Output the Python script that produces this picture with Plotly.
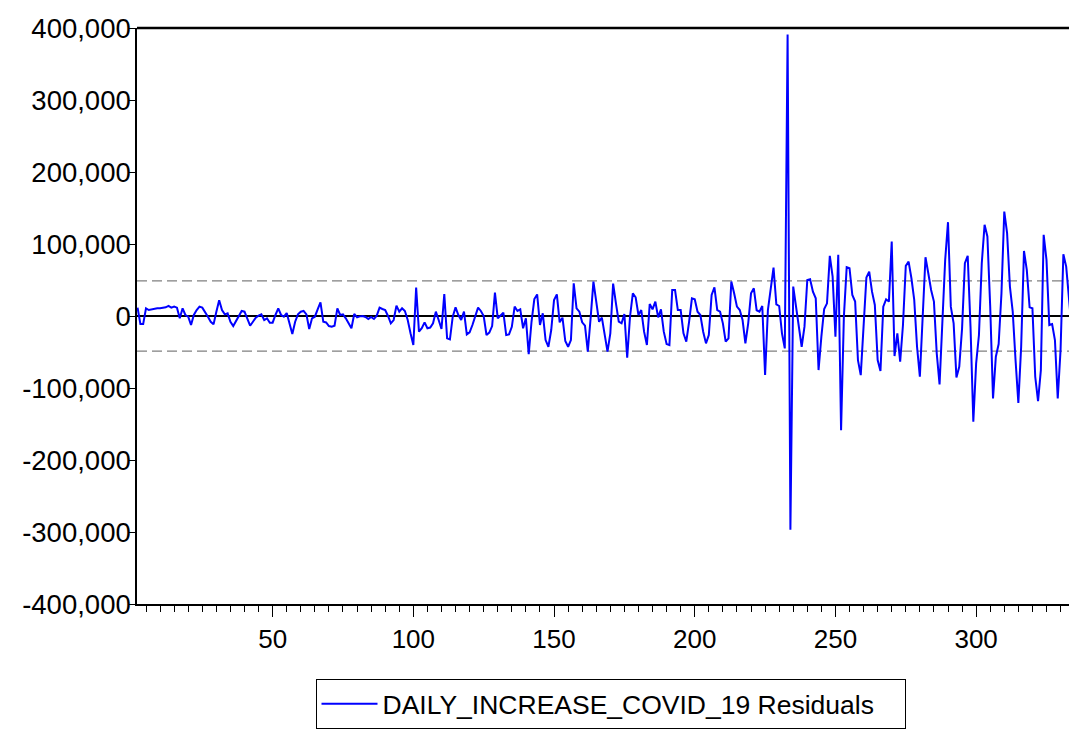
import plotly.graph_objects as go

# ---- data ----
obs_start = 2
residuals = [
    11600, -11000, -11000, 10700, 8300, 9300, 9700, 10700, 10700, 11600,
    12000, 14000, 11600, 13000, 11600, -3200, 10700, 1400, -1000, -12500,
    1400, 8300, 13000, 11600, 6000, -1000, -8000, -11600, 6000, 22000,
    8300, 2300, 3700, -8000, -14000, -7000, 1400, 7000, 6000, -3200,
    -13500, -8000, -2300, 500, 2300, -5600, -3200, -9300, -9300, 1400,
    10700, 1400, -1000, 4200, -12500, -25000, -8000, 2300, 6000, 7000,
    2300, -18000, -3200, -1000, 9300, 19000, -8000, -9000, -14000, -15000,
    -13500, 10700, 1400, 2300, -3200, -10000, -17000, 2800, -1900, -500,
    0, -1400, -4200, -1400, -4200, 500, 11600, 9700, 8300, 0,
    -10200, -5600, 14400, 6000, 10700, 7000, -5600, -24000, -40300, 39400,
    -21800, -17000, -8800, -17000, -16000, -10200, 6000, -5600, -18000, 30600,
    -31000, -32500, -900, 12000, 1400, -5600, 6000, -25500, -22700, -12500,
    -900, 11600, 7000, 0, -26400, -23000, -14000, 32500, -3200, 500,
    4600, -26400, -25500, -15000, 13000, 7000, 9300, -17000, -3200, -53000,
    -8000, 23600, 30000, -12500, 3700, -33400, -42700, -19500, 22300, 30000,
    -8800, -2300, -34800, -42700, -33400, 45400, 10700, 6000, -8800, -13500,
    -49600, -3000, 47800, 20000, -8000, -2300, -27000, -49600, -24000, 45000,
    17600, -7900, -10200, 2800, -58000, -1000, 31500, 26000, 1400, 8300,
    -21800, -40300, 16700, 9300, 20000, -1900, 9300, -21800, -39000, -40300,
    36000, 36000, 8300, 8300, -24000, -35700, -7900, 24600, 23200, 6000,
    1400, -21800, -38000, -26400, 29200, 39900, 8300, 6000, -10200, -35700,
    -31000, 47800, 31500, 13000, 8300, -5600, -38000, -10200, 31500, 38500,
    8000, 6000, 14000, -82000, 8300, 40800, 67200, 16200, 13900, -24100,
    -45000, 391000, -296800, 40800, 13000, -14800, -42700, -14800, 50000, 51000,
    33800, 24600, -75100, -28700, 9700, 17600, 83500, 54700, -28700, 84900,
    -158600, -900, 67700, 66300, 29200, 20000, -61200, -82100, -5600, 53300,
    61700, 33800, 15300, -61200, -76500, 13000, 23200, 20000, 103400, -55600,
    -24100, -63500, -12500, 69600, 75600, 52400, 22300, -42700, -84400, -900,
    81600, 59400, 36200, 20000, -51900, -95000, -900, 77900, 130300, 13000,
    -10200, -85300, -70500, -17200, 73300, 83500, -14800, -146900, -65800, -26400,
    73300, 126600, 110400, 13000, -114500, -56600, -39000, 31500, 145100, 115000,
    40800, 6000, -61200, -120600, -42700, 90400, 64000, 12000, 10700, -84400,
    -118200, -75100, 112700, 77900, -12500, -11100, -33400, -114500, -47300, 85800,
    68600, 22300, -20000,
]
obs = list(range(obs_start, obs_start + len(residuals)))
se_band = 48700
series_name = "DAILY_INCREASE_COVID_19 Residuals"

y_tickvals = [400000, 300000, 200000, 100000, 0, -100000, -200000, -300000, -400000]
y_ticktext = ["400,000", "300,000", "200,000", "100,000", "0",
              "-100,000", "-200,000", "-300,000", "-400,000"]
x_tickvals = [50, 100, 150, 200, 250, 300]

# ---- figure ----
FONT = "Liberation Sans, Arial, sans-serif"
W, H = 1069, 731
fig = go.Figure()
fig.add_trace(go.Scatter(
    x=obs, y=residuals, mode="lines", name=series_name,
    line=dict(color="#0000FF", width=2),
    showlegend=True,
))

fig.update_layout(
    width=W, height=H,
    margin=dict(l=137, r=0, t=28, b=127, autoexpand=False),
    paper_bgcolor="white", plot_bgcolor="white",
    font=dict(family=FONT, size=26, color="black"),
    xaxis=dict(
        range=[1.8, 333.0],
        tickvals=x_tickvals,
        ticks="outside", ticklen=11, tickwidth=1, tickcolor="black",
        showline=True, linecolor="black", linewidth=1.5,
        showgrid=False, zeroline=False, automargin=False,
        ticklabelstandoff=0,
        tickfont=dict(family=FONT, size=26, color="black"),
        minor=dict(dtick=5, tick0=0, ticks="outside", ticklen=6,
                   tickwidth=1, tickcolor="black", showgrid=False),
    ),
    yaxis=dict(
        range=[-400000, 400000],
        tickvals=y_tickvals, ticktext=y_ticktext,
        ticks="outside", ticklen=7, tickwidth=1, tickcolor="black",
        showline=True, linecolor="black", linewidth=1.5,
        showgrid=False, automargin=False,
        ticklabelstandoff=-8,
        tickfont=dict(family=FONT, size=27.5, color="black"),
        zeroline=True, zerolinecolor="black", zerolinewidth=1.5,
    ),
    showlegend=True,
    legend=dict(
        orientation="h",
        xref="container", yref="container",
        x=610.5 / W, xanchor="center",
        y=2 / H, yanchor="bottom",
        bordercolor="black", borderwidth=1,
        bgcolor="white",
        font=dict(family=FONT, size=26.5, color="black"),
        itemwidth=56,
        entrywidth=517,
    ),
    shapes=[
        dict(type="line", xref="paper", yref="y", x0=0, x1=1, y0=se_band, y1=se_band,
             line=dict(color="#808080", width=1.2, dash="10px,5px"), layer="below"),
        dict(type="line", xref="paper", yref="y", x0=0, x1=1, y0=-se_band, y1=-se_band,
             line=dict(color="#808080", width=1.2, dash="10px,5px"), layer="below"),
        dict(type="line", xref="paper", yref="paper", x0=0, x1=1, y0=1, y1=1,
             line=dict(color="black", width=2.5)),
    ],
)

# remove the default 8px page margin so the figure fills the window exactly
fig.write_html(
    "out.html",
    config={"displayModeBar": False},
    post_script="document.body.style.margin='0';document.body.style.overflow='hidden';",
)
